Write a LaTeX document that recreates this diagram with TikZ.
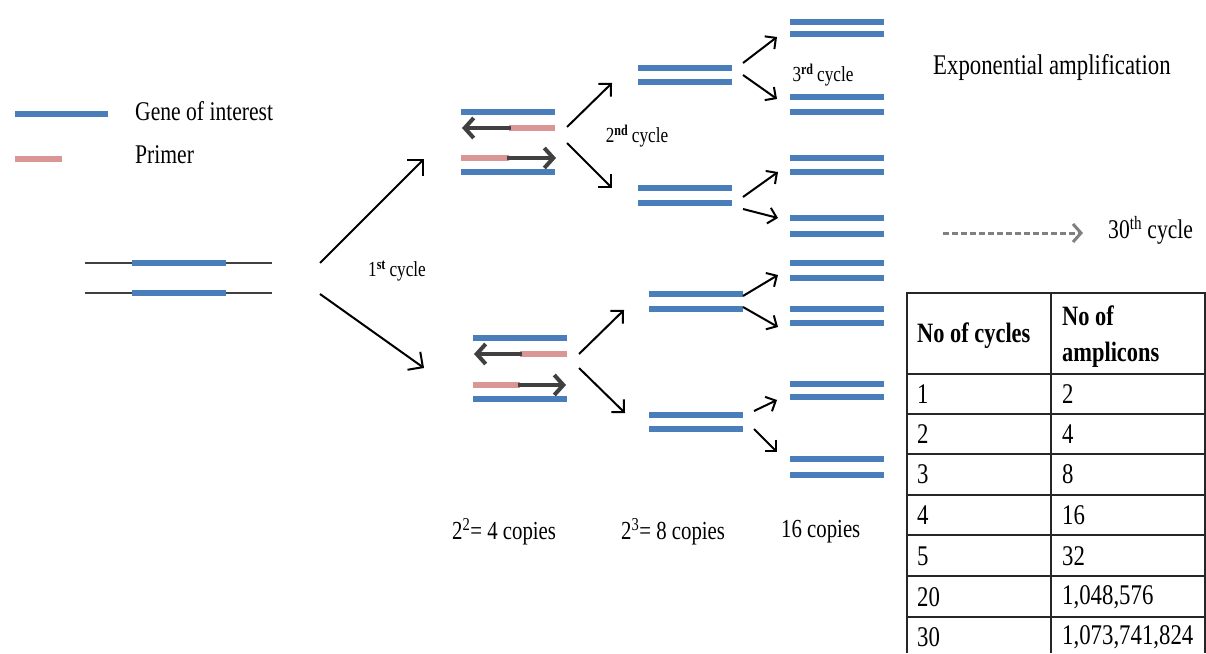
\documentclass[tikz,border=0pt]{standalone}
\usepackage{fontspec}
\setmainfont{Liberation Serif}[FakeStretch=0.80]
\usetikzlibrary{arrows.meta}

\definecolor{genecol}{HTML}{4A7EBB}
\definecolor{primercol}{HTML}{D99694}
\definecolor{strandcol}{HTML}{404040}
\definecolor{dashcol}{HTML}{808080}

\tikzset{
  gene/.style={draw=genecol, line width=6.5pt},
  primerbar/.style={draw=primercol, line width=6pt},
  flank/.style={draw=strandcol, line width=2pt},
  ext/.style={draw=strandcol, line width=4pt, -{Straight Barb[length=9pt,width=20pt]}},
  cyc/.style={draw=black, line width=2pt, -{Straight Barb[length=#1,width=2*#1]}},
  cyc/.default=9pt,
  txt/.style={inner sep=0pt, anchor=west, font=\fontsize{#1}{#1}\selectfont},
  txt/.default=27pt,
  midtxt/.style={inner sep=0pt, font=\fontsize{#1}{#1}\selectfont},
  head/.style={inner sep=0pt, anchor=west, font=\fontsize{28}{28}\selectfont\bfseries},
  grid/.style={draw=black!85, line width=2pt},
}

% a pair of blue strands between x1 and x2 at heights ya and yb
\newcommand\duplex[5]{%
  \coordinate (#1) at ({(#2+#3)/2},{(#4+#5)/2});
  \draw[gene] (#2,#4) -- (#3,#4);
  \draw[gene] (#2,#5) -- (#3,#5);}

\begin{document}
\begin{tikzpicture}[x=1pt,y=-1pt]
\useasboundingbox (0,0) rectangle (1206,653);

% legend
\draw[gene] (15,114) -- (108,114);
\draw[primerbar] (15,159) -- (62,159);
\node[txt] (lgene) at (135,111) {Gene of interest};
\node[txt] (lprimer) at (135,155) {Primer};

% template DNA with flanking sequence
\draw[flank] (85,263) -- (272,263);
\draw[flank] (85,293) -- (272,293);
\draw[gene] (132,263) -- (226,263);
\draw[gene] (132,293) -- (226,293);

% first cycle
\coordinate (c1a) at (320,263); \coordinate (c1b) at (424,159);
\coordinate (c1c) at (320,294); \coordinate (c1d) at (424,368);
\draw[cyc=11pt] (c1a) -- (c1b);
\draw[cyc=11pt] (c1c) -- (c1d);
\node[midtxt=21.5pt] (cyc1) at (397,271) {1\textsuperscript{\bfseries st}\,cycle};

% primer extension, upper template
\draw[gene] (461,112) -- (555,112);
\draw[primerbar] (509,128) -- (555,128);
\coordinate (p1s) at (511,128); \coordinate (p1e) at (462,128);
\draw[ext] (p1s) -- (p1e);
\draw[primerbar] (461,158) -- (509,158);
\coordinate (p2s) at (507,158); \coordinate (p2e) at (556,158);
\draw[ext] (p2s) -- (p2e);
\draw[gene] (461,172) -- (555,172);

% primer extension, lower template
\draw[gene] (473,338) -- (567,338);
\draw[primerbar] (520,354) -- (567,354);
\coordinate (p3s) at (522,354); \coordinate (p3e) at (474,354);
\draw[ext] (p3s) -- (p3e);
\draw[primerbar] (473,385) -- (520,385);
\coordinate (p4s) at (518,385); \coordinate (p4e) at (566,385);
\draw[ext] (p4s) -- (p4e);
\draw[gene] (473,399) -- (567,399);

% second cycle
\coordinate (c2a) at (567,127); \coordinate (c2b) at (612,83);
\coordinate (c2c) at (567,143); \coordinate (c2d) at (612,188);
\coordinate (c2e) at (579,354); \coordinate (c2f) at (624,310);
\coordinate (c2g) at (579,368); \coordinate (c2h) at (625,413);
\draw[cyc] (c2a) -- (c2b);
\draw[cyc] (c2c) -- (c2d);
\draw[cyc] (c2e) -- (c2f);
\draw[cyc] (c2g) -- (c2h);
\node[midtxt=21.5pt] (cyc2) at (637,136) {2\textsuperscript{\bfseries nd}\,cycle};

% eight copies
\duplex{g3a}{638}{732}{68}{82}
\duplex{g3b}{638}{732}{188}{203}
\duplex{g3c}{649}{743}{294}{309}
\duplex{g3d}{649}{743}{415}{429}

% third cycle
\coordinate (c3a) at (743,63);  \coordinate (c3b) at (777,37);
\coordinate (c3c) at (743,75);  \coordinate (c3d) at (777,99);
\coordinate (c3e) at (743,197); \coordinate (c3f) at (778,172);
\coordinate (c3g) at (743,209); \coordinate (c3h) at (778,218);
\coordinate (c3i) at (743,296); \coordinate (c3j) at (778,275);
\coordinate (c3k) at (743,307); \coordinate (c3l) at (778,327);
\coordinate (c3m) at (754,411); \coordinate (c3n) at (777,400);
\coordinate (c3o) at (754,429); \coordinate (c3p) at (777,452);
\foreach \s/\e in {c3a/c3b,c3c/c3d,c3e/c3f,c3g/c3h,c3i/c3j,c3k/c3l,c3m/c3n,c3o/c3p}
  \draw[cyc=8pt] (\s) -- (\e);
\node[midtxt=21.5pt] (cyc3) at (823,75) {3\textsuperscript{\bfseries rd}\,cycle};

% sixteen copies
\duplex{g4a}{790}{884}{22}{34}
\duplex{g4b}{790}{884}{97}{112}
\duplex{g4c}{790}{884}{158}{172}
\duplex{g4d}{790}{884}{218}{234}
\duplex{g4e}{790}{884}{263}{278}
\duplex{g4f}{790}{884}{309}{323}
\duplex{g4g}{790}{884}{384}{397}
\duplex{g4h}{790}{884}{459}{475}

% copy counts
\node[txt=26pt] (n4) at (452,532) {2\textsuperscript{2}= 4 copies};
\node[txt=26pt] (n8) at (621,532) {2\textsuperscript{3}= 8 copies};
\node[txt=26pt] (n16) at (781,532) {16 copies};

% headline and continuation
\node[txt=28.5pt] (expo) at (933,67) {Exponential amplification};
\coordinate (ds) at (943,233); \coordinate (de) at (1083,233);
\draw[draw=dashcol, line width=3pt, dash pattern=on 6pt off 3pt,
      -{Straight Barb[length=8pt,width=18pt]}] (ds) -- (de);
\node[txt=27pt] (c30) at (1108,230) {30\textsuperscript{th} cycle};

% amplicon table
\draw[grid] (907,653) -- (907,293) -- (1205,293) -- (1205,653);
\draw[grid] (1051,293) -- (1051,653);
\foreach \y in {374,414,454,495,535,576,617}
  \draw[grid] (907,\y) -- (1205,\y);
\node[head] (h1) at (917,336) {No of cycles};
\node[head] (h2a) at (1062,316) {No of};
\node[head] (h2b) at (1062,355) {amplicons};
\foreach \y/\a/\b [count=\i] in {394/1/2,434/2/4,474/3/8,515/4/16,556/5/32,597/20/{1,048,576},637/30/{1,073,741,824}} {
  \node[txt=28.5pt] (r\i a) at (917,\y) {\a};
  \node[txt=28.5pt] (r\i b) at (1062,\y) {\b};
}
\end{tikzpicture}
\end{document}
